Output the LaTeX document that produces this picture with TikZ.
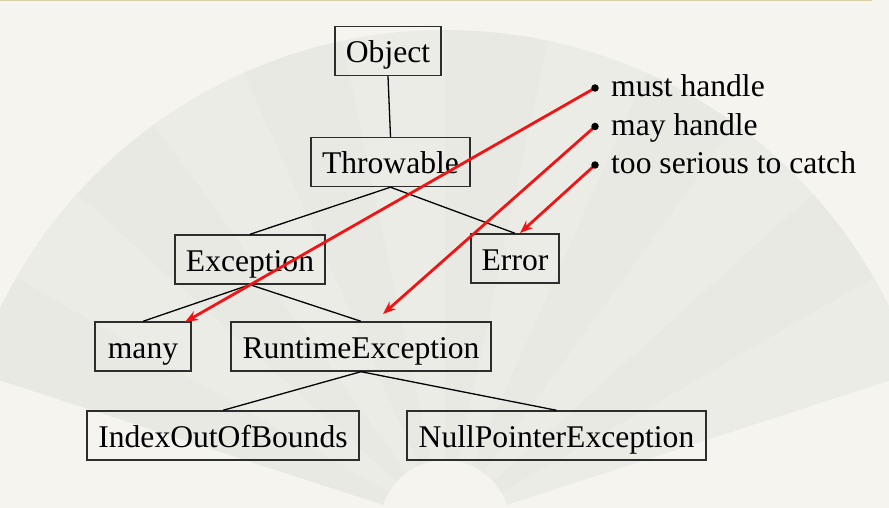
\documentclass[tikz,border=0pt]{standalone}
\usepackage{fontspec}
\setmainfont{Liberation Serif}
\usetikzlibrary{arrows.meta}
\definecolor{bg}{RGB}{245,244,238}
\definecolor{fanA}{RGB}{236,236,230}
\definecolor{fanB}{RGB}{233,233,227}
\definecolor{topline}{RGB}{216,210,172}
\definecolor{boxline}{RGB}{45,45,45}
\definecolor{arrowred}{RGB}{240,20,20}
\begin{document}
\begin{tikzpicture}[x=1pt,y=1pt,
 box/.style={draw=boxline, line width=1.4pt, inner sep=0pt, minimum height=49pt,
   text height=24pt, text depth=0pt, font=\fontsize{31.6}{38}\selectfont},
 tree/.style={line width=1.3pt, black},
 bullettext/.style={anchor=base west, inner sep=0pt, font=\fontsize{31.6}{38}\selectfont},
 dot/.style={circle, fill=black, inner sep=0pt, minimum size=7.5pt},
 redarrow/.style={draw=arrowred, line width=2.8pt, -{Stealth[length=13pt,width=10pt]}}]
% background
\fill[bg] (0,0) rectangle (889,-508);
\useasboundingbox (0,0) rectangle (889,-508);
\begin{scope}[shift={(445,-525)}]
  \foreach \i in {0,2,...,10}{
    \pgfmathsetmacro\a{18+12*\i}\pgfmathsetmacro\b{\a+12}
    \fill[fanA] (\a:65) -- (\a:495) arc[start angle=\a,end angle=\b,radius=495] -- (\b:65) arc[start angle=\b,end angle=\a,radius=65] -- cycle;
  }
  \foreach \i in {1,3,...,11}{
    \pgfmathsetmacro\a{18+12*\i}\pgfmathsetmacro\b{\a+12}
    \fill[fanB] (\a:65) -- (\a:495) arc[start angle=\a,end angle=\b,radius=495] -- (\b:65) arc[start angle=\b,end angle=\a,radius=65] -- cycle;
  }
\end{scope}
\draw[topline, line width=2pt] (0,-0.5) -- (872,-0.5);
% tree nodes
\node[box, minimum width=106pt] (obj) at (388,-51) {Object};
\node[box, minimum width=159pt] (thr) at (390.5,-162) {Throwable};
\node[box, minimum width=150pt] (exc) at (250,-259.5) {Exception};
\node[box, minimum width=88pt] (err) at (515,-258.5) {Error};
\node[box, minimum width=96pt] (many) at (143,-346.5) {many};
\node[box, minimum width=260pt] (rte) at (361,-346.5) {RuntimeException};
\node[box, minimum width=272pt] (ioob) at (223,-435.5) {IndexOutOfBounds};
\node[box, minimum width=299pt] (npe) at (556.5,-435.5) {NullPointerException};
% tree edges
\draw[tree] (obj.south) -- (thr.north);
\draw[tree] (thr.south) -- (exc.north);
\draw[tree] (thr.south) -- (err.north);
\draw[tree] (exc.south) -- (many.north);
\draw[tree] (exc.south) -- (rte.north);
\draw[tree] (rte.south) -- (ioob.north);
\draw[tree] (rte.south) -- (npe.north);
% bullet list
\coordinate (b1) at (595,-88);
\coordinate (b2) at (595,-126.5);
\coordinate (b3) at (595,-165);
\node[bullettext] (l1) at (611,-97) {must handle};
\node[bullettext] (l2) at (611,-135.5) {may handle};
\node[bullettext] (l3) at (611,-174) {too serious to catch};
% arrow targets
\coordinate (t1) at (185,-322);
\coordinate (t2) at (383,-314);
\coordinate (t3) at (520,-233);
\draw[redarrow] (b1) -- (t1);
\draw[redarrow] (b2) -- (t2);
\draw[redarrow] (b3) -- (t3);
\node[dot] (d1) at (b1) {};
\node[dot] (d2) at (b2) {};
\node[dot] (d3) at (b3) {};
\end{tikzpicture}
\end{document}
